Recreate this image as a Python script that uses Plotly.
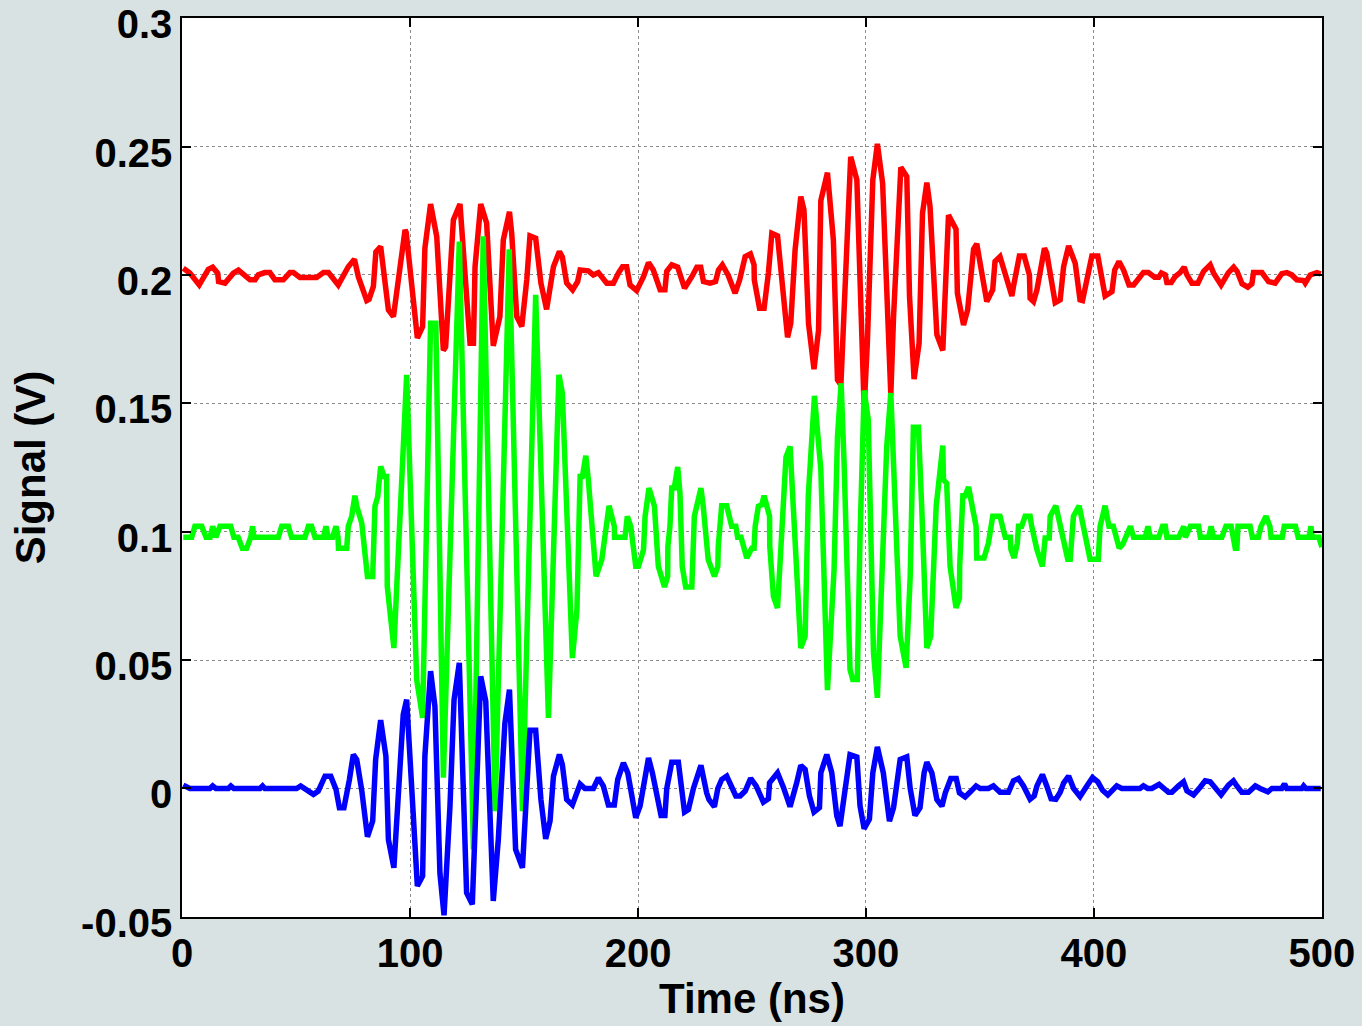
import plotly.graph_objects as go

# ---------------- data ----------------
red_t = [0.5,3.4,7.5,11.5,13.4,15.6,16.0,18.8,22.5,24.7,29.8,32.0,33.4,36.3,38.5,40.7,44.4,47.3,48.8,51.7,59.0,62.0,64.2,68.5,72.9,75.6,77.3,81.0,82.0,83.9,85.0,87.1,90.5,92.7,97.8,98.3,103.2,105.5,106.5,109.0,111.7,114.6,115.6,119.0,121.9,126.3,127.8,128.5,131.0,133.6,136.5,139.4,140.9,143.6,144.6,146.8,149.0,151.2,152.6,155.1,157.4,159.9,162.9,165.5,166.8,168.7,171.3,173.5,174.6,176.5,178.2,180.4,182.6,186.3,189.2,191.4,193.2,195.0,196.5,199.4,202.4,204.6,206.7,209.7,211.8,212.6,214.8,217.4,220.4,223.6,225.8,227.5,228.7,231.6,234.0,235.3,237.0,239.5,242.6,244.6,247.0,249.3,250.9,251.0,253.3,255.3,257.2,258.7,261.2,265.6,267.0,268.9,271.4,272.8,274.8,277.2,279.2,280.2,283.1,285.7,287.5,289.0,291.6,293.3,296.0,298.4,299.2,300.6,303.0,305.0,307.3,310.9,312.1,315.3,317.9,319.1,321.1,323.3,324.8,326.7,328.1,331.1,333.7,336.2,339.5,340.1,342.8,344.6,347.2,348.6,353.0,355.6,356.6,358.8,361.0,364.0,364.7,367.3,369.4,371.7,372.0,373.5,375.0,378.3,379.3,383.0,385.2,386.7,388.9,391.8,393.9,395.0,399.1,401.7,404.9,407.9,409.1,411.0,413.0,415.4,417.4,421.7,423.9,426.6,428.4,429.6,431.3,432.0,433.9,435.6,437.8,439.6,440.8,443.0,445.6,448.1,451.0,452.5,455.8,459.0,461.3,462.8,465.0,467.5,469.3,470.0,473.7,476.6,479.5,482.4,484.6,486.8,489.0,492.0,492.7,494.9,497.8,499.5]
red_v = [0.2026,0.2007,0.1961,0.2022,0.2030,0.2007,0.1974,0.1968,0.2007,0.2019,0.1981,0.1981,0.2000,0.2009,0.2009,0.1981,0.1981,0.2009,0.2009,0.1990,0.1990,0.2009,0.2009,0.1961,0.2032,0.2061,0.1993,0.1900,0.1905,0.1955,0.2090,0.2110,0.1864,0.1838,0.2175,0.2165,0.1754,0.1799,0.2104,0.2276,0.2149,0.1706,0.1720,0.2214,0.2276,0.1734,0.1734,0.2032,0.2276,0.2201,0.1724,0.1838,0.2136,0.2246,0.2160,0.1838,0.1799,0.1981,0.2152,0.2143,0.1968,0.1866,0.2032,0.2091,0.2070,0.1968,0.1942,0.1974,0.2019,0.2016,0.2016,0.2000,0.2009,0.1968,0.1968,0.2007,0.2032,0.2032,0.1961,0.1939,0.1993,0.2048,0.2019,0.1942,0.1942,0.2014,0.2039,0.2030,0.1948,0.1993,0.2030,0.2030,0.1974,0.1968,0.1974,0.2019,0.2039,0.2000,0.1929,0.1981,0.2071,0.2082,0.2039,0.1981,0.1870,0.1870,0.2007,0.2162,0.2152,0.1757,0.1811,0.2097,0.2305,0.2253,0.1811,0.1633,0.1785,0.2289,0.2398,0.2136,0.1591,0.1572,0.2080,0.2460,0.2370,0.1799,0.1481,0.1734,0.2370,0.2510,0.2357,0.1533,0.1838,0.2419,0.2383,0.1916,0.1594,0.1734,0.2240,0.2359,0.2266,0.1767,0.1706,0.2233,0.2178,0.1929,0.1805,0.1864,0.2100,0.2121,0.1896,0.1942,0.2052,0.2071,0.2000,0.1918,0.1955,0.2074,0.2074,0.2000,0.1909,0.1896,0.1942,0.2104,0.2085,0.1892,0.1903,0.2032,0.2113,0.2045,0.1903,0.1900,0.2074,0.2074,0.1918,0.1935,0.2019,0.2052,0.2019,0.1961,0.1961,0.2009,0.2009,0.1991,0.1991,0.2007,0.2000,0.1970,0.1970,0.1993,0.2009,0.2030,0.2000,0.1968,0.1968,0.2014,0.2039,0.2007,0.1961,0.2009,0.2030,0.2014,0.1965,0.1952,0.1965,0.2009,0.2009,0.1974,0.1968,0.2005,0.2009,0.2000,0.1981,0.1978,0.1968,0.2000,0.2009,0.2004]

green_t = [0.5,4.2,5.6,8.6,10.5,12.3,13.4,14.8,16.6,21.3,22.7,24.6,26.4,28.3,30.1,30.9,31.5,42.2,43.7,46.6,48.0,53.9,55.4,56.8,58.3,62.0,63.1,64.1,66.0,67.5,68.4,68.6,72.2,72.9,74.4,75.8,76.6,78.8,81.3,83.6,84.6,85.8,87.1,88.6,89.7,90.0,92.9,97.3,98.5,102.9,105.5,109.0,111.3,114.6,121.6,127.8,132.1,137.3,143.5,149.3,155.1,160.7,165.3,166.8,171.2,173.2,174.6,175.6,177.1,178.2,181.6,184.1,185.6,187.3,189.6,189.7,194.3,195.3,196.8,199.0,200.2,202.4,203.1,204.8,207.2,208.9,211.6,213.0,213.1,214.0,214.8,215.9,217.4,218.4,219.4,220.9,223.6,224.7,227.6,228.6,230.8,233.5,235.0,235.2,236.7,238.9,241.1,242.9,243.7,245.2,247.7,249.9,250.9,251.4,252.8,254.3,255.3,257.7,257.8,259.4,261.2,263.8,264.9,266.7,271.4,273.3,274.7,277.4,280.2,283.1,286.0,287.5,289.1,290.4,293.0,294.2,296.2,297.4,299.2,301.0,303.3,305.0,306.9,309.1,310.9,312.1,315.0,317.6,319.4,320.8,323.0,324.5,326.7,328.4,330.8,333.7,334.0,335.4,336.9,339.5,341.0,341.1,342.5,343.5,345.0,346.9,348.3,348.6,351.8,353.7,355.6,358.8,361.1,363.3,363.6,365.0,366.4,366.9,368.3,369.8,372.0,372.7,375.0,377.4,378.6,380.4,380.8,383.3,385.6,388.5,389.6,391.0,393.5,395.4,398.3,401.9,402.7,404.9,406.6,408.5,411.1,412.6,414.0,416.0,417.4,422.5,423.7,424.7,428.4,430.1,431.3,432.0,437.2,439.4,440.1,442.3,445.9,446.7,450.3,451.4,452.5,456.1,457.9,460.2,462.0,462.7,463.2,468.5,469.5,472.1,473.3,475.5,477.2,477.7,482.6,483.5,488.4,489.6,494.3,495.2,495.8,498.7,500.0]
green_v = [0.0978,0.0978,0.1021,0.1021,0.0978,0.0978,0.1021,0.0978,0.1021,0.1021,0.0978,0.0978,0.0936,0.0936,0.0978,0.1021,0.0978,0.0978,0.1021,0.1021,0.0978,0.0978,0.1021,0.1021,0.0978,0.0978,0.1021,0.0978,0.0978,0.1021,0.0978,0.0936,0.0936,0.1021,0.1060,0.1140,0.1099,0.1034,0.0826,0.0826,0.1099,0.1136,0.1254,0.1215,0.1215,0.0787,0.0547,0.1332,0.1611,0.0424,0.0275,0.1812,0.1812,0.0042,0.2130,-0.0237,0.2150,-0.0088,0.2100,-0.0088,0.1922,0.0275,0.1611,0.1540,0.0508,0.0696,0.1215,0.1215,0.1296,0.1202,0.0826,0.0891,0.1000,0.1101,0.1021,0.0978,0.0978,0.1060,0.1021,0.0865,0.0865,0.0930,0.1060,0.1170,0.1099,0.0865,0.0785,0.0826,0.0943,0.1021,0.1170,0.1170,0.1252,0.1150,0.0865,0.0785,0.0785,0.1060,0.1170,0.1099,0.0891,0.0826,0.0865,0.0943,0.1101,0.1101,0.1021,0.1021,0.0978,0.0978,0.0898,0.0936,0.0936,0.1021,0.1099,0.1105,0.1140,0.1060,0.0943,0.0748,0.0703,0.1060,0.1291,0.1332,0.0547,0.0593,0.1140,0.1529,0.1241,0.0383,0.0852,0.1371,0.1578,0.1267,0.0463,0.0424,0.0424,0.0982,0.1550,0.1436,0.0528,0.0353,0.0787,0.1332,0.1540,0.1241,0.0593,0.0470,0.0826,0.1407,0.1407,0.1085,0.0547,0.0593,0.1099,0.1335,0.1202,0.1189,0.0865,0.0703,0.0741,0.0865,0.1140,0.1140,0.1174,0.1085,0.1021,0.0898,0.0898,0.0955,0.1060,0.1060,0.0978,0.0978,0.0930,0.0898,0.0955,0.1021,0.1021,0.1060,0.1060,0.1021,0.0930,0.0865,0.0975,0.0975,0.1060,0.1101,0.1008,0.0893,0.0893,0.1060,0.1101,0.1021,0.0893,0.0893,0.1021,0.1101,0.1021,0.1021,0.0936,0.0950,0.0978,0.1021,0.0978,0.0978,0.1021,0.0978,0.0978,0.1021,0.1021,0.0978,0.0978,0.1021,0.0978,0.1021,0.1021,0.0978,0.0978,0.1021,0.0978,0.0978,0.1021,0.1021,0.0936,0.0936,0.1021,0.1021,0.0978,0.0978,0.1021,0.1060,0.1021,0.0978,0.0978,0.1021,0.1021,0.0978,0.0978,0.1021,0.0978,0.0978,0.0940]

blue_t = [0.5,3.4,12.2,13.4,14.8,20.3,21.4,22.7,34.2,35.3,36.3,50.2,52.0,54.6,57.6,59.7,62.7,65.2,67.5,69.0,71.0,73.4,75.1,76.6,78.8,81.3,83.6,84.9,87.1,89.4,90.5,92.9,97.0,98.5,99.9,103.2,105.5,106.5,109.0,110.9,113.1,114.9,117.5,119.3,121.6,124.8,127.3,129.2,131.0,133.2,136.5,138.7,141.6,143.6,146.3,149.3,151.2,152.6,155.1,157.4,159.5,161.4,162.9,165.5,166.8,168.7,171.2,173.1,174.6,176.7,180.4,182.6,184.8,187.0,189.6,191.1,193.6,195.5,197.3,199.0,200.9,202.8,204.6,206.3,209.0,210.1,211.8,212.6,214.8,217.7,220.4,222.1,224.3,227.6,230.1,231.1,233.5,235.0,236.7,238.9,241.4,242.9,244.8,247.0,249.4,251.8,255.0,257.2,257.7,261.2,263.8,266.7,269.6,271.4,273.3,275.2,277.2,279.6,280.2,282.8,285.0,287.2,288.6,290.8,293.0,296.0,297.4,299.2,301.5,303.0,305.0,307.6,310.3,312.1,315.0,317.9,319.4,321.5,323.7,325.5,326.7,328.9,331.1,333.3,334.8,337.2,339.6,341.0,343.5,345.7,348.3,350.1,353.7,355.9,358.8,362.5,364.7,366.9,369.1,372.0,373.8,375.0,377.4,379.3,381.2,383.3,385.2,386.7,388.9,391.1,393.9,396.9,399.4,401.7,403.8,406.1,410.0,412.2,420.2,421.7,423.6,425.4,428.6,432.7,434.2,437.1,439.3,440.8,443.7,446.6,448.8,451.0,453.2,455.8,459.0,461.2,462.7,464.9,467.8,470.8,472.9,476.3,478.1,482.4,483.6,484.6,491.2,492.0,493.0,499.5]
blue_v = [0.0013,0.0,0.0,0.0010,0.0,0.0,0.0010,0.0,0.0,0.0010,0.0,0.0,0.0010,-0.0003,-0.0023,-0.0010,0.0048,0.0048,-0.0003,-0.0075,-0.0075,0.0035,0.0132,0.0113,-0.0007,-0.0188,-0.0127,0.0113,0.0266,0.0126,-0.0199,-0.0309,0.0288,0.0346,0.0113,-0.0380,-0.0341,0.0126,0.0457,0.0320,-0.0330,-0.0494,-0.0070,0.0346,0.0489,-0.0406,-0.0451,0.0060,0.0437,0.0340,-0.0438,-0.0200,0.0255,0.0385,-0.0237,-0.0309,0.0,0.0227,0.0227,-0.0043,-0.0196,-0.0127,0.0048,0.0132,0.0093,-0.0043,-0.0064,-0.0017,0.0017,0.0,0.0,0.0041,0.0009,-0.0064,-0.0064,0.0035,0.0100,0.0061,-0.0043,-0.0114,-0.0068,0.0035,0.0119,0.0061,-0.0064,-0.0105,-0.0105,0.0,0.0102,0.0102,-0.0092,-0.0082,0.0,0.0090,-0.0017,-0.0043,-0.0071,0.0,0.0035,0.0048,0.0,-0.0029,-0.0029,-0.0010,0.0039,0.0010,-0.0053,-0.0040,0.0022,0.0061,0.0004,-0.0071,0.0022,0.0090,0.0074,-0.0029,-0.0092,-0.0075,0.0061,0.0132,0.0061,-0.0107,-0.0147,0.0,0.0132,0.0123,-0.0068,-0.0157,-0.0120,0.0061,0.0162,0.0061,-0.0127,-0.0075,0.0113,0.0123,0.0,-0.0105,-0.0075,0.0061,0.0102,0.0061,-0.0043,-0.0069,-0.0017,0.0039,0.0039,-0.0017,-0.0033,-0.0014,0.0010,0.0,0.0,0.0010,-0.0015,-0.0015,0.0030,0.0039,0.0010,-0.0042,-0.0029,0.0010,0.0054,0.0010,-0.0040,-0.0042,-0.0015,0.0021,0.0048,0.0,-0.0031,0.0010,0.0043,0.0026,-0.0007,-0.0025,0.0010,0.0,0.0,0.0010,0.0,0.0,0.0016,-0.0015,-0.0015,0.0010,0.0026,-0.0009,-0.0025,0.0005,0.0030,0.0026,0.0,-0.0025,0.0013,0.0030,0.0010,-0.0015,-0.0015,0.0010,0.0,-0.0013,0.0,0.0,0.0018,0.0,0.0,0.0010,0.0,0.0]

x_ticks = [0, 100, 200, 300, 400, 500]
x_ticktext = ["0", "100", "200", "300", "400", "500"]
y_ticks = [-0.05, 0, 0.05, 0.1, 0.15, 0.2, 0.25, 0.3]
y_ticktext = ["-0.05", "0", "0.05", "0.1", "0.15", "0.2", "0.25", "0.3"]

series = [
    (red_t, red_v, "#FF0000"),
    (green_t, green_v, "#00FF00"),
    (blue_t, blue_v, "#0000FF"),
]

fig = go.Figure()
for t, v, c in series:
    fig.add_trace(go.Scatter(x=t, y=v, mode="lines",
                             line=dict(color=c, width=5.5), showlegend=False))

font_fam = "Arial, Liberation Sans, sans-serif"
axis_common = dict(
    showline=True, linecolor="black", linewidth=1.5, mirror="allticks",
    ticks="inside", ticklen=9, tickwidth=2, tickcolor="black",
    showgrid=True, gridcolor="#8c8c8c", gridwidth=1, griddash="dot",
    zeroline=False, ticklabeloverflow="allow", automargin=False,
    tickfont=dict(family=font_fam, size=40, color="black", weight="bold"),
)

fig.update_layout(
    width=1362, height=1026,
    paper_bgcolor="#D9E2E3", plot_bgcolor="white",
    margin=dict(l=182, r=40, t=18, b=109),
    xaxis=dict(range=[-0.05, 500.05], tickvals=x_ticks, ticktext=x_ticktext,
               title=dict(text="Time (ns)", standoff=6,
                          font=dict(family=font_fam, size=42, color="black", weight="bold")),
               **axis_common),
    yaxis=dict(range=[-0.05005, 0.30005], tickvals=y_ticks, ticktext=y_ticktext,
               ticklabelshift=6,
               title=dict(text="Signal (V)", standoff=22,
                          font=dict(family=font_fam, size=42, color="black", weight="bold")),
               **axis_common),
)

fig.write_html("out.html")
